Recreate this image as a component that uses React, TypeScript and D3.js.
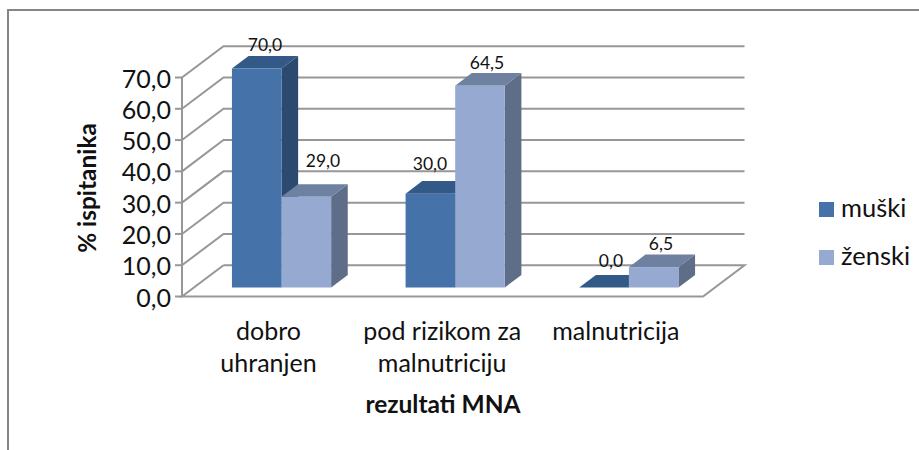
import React from "react";
import * as d3 from "d3";

const categories = ["dobro uhranjen", "pod rizikom za malnutriciju", "malnutricija"];
const categoryLines = [["dobro", "uhranjen"], ["pod rizikom za", "malnutriciju"], ["malnutricija"]];
const seriesNames = ["muški", "ženski"];
const muski = [70.0, 30.0, 0.0];
const zenski = [29.0, 64.5, 6.5];
const yTicks = [0, 10, 20, 30, 40, 50, 60, 70];

const FONT = "Lato, 'Open Sans', sans-serif";
const GRID = "#979797";
const palette = [
  { front: "#4572a8", top: "#335a87", side: "#2c4a70" },
  { front: "#95a9d1", top: "#6f81a1", side: "#5e6d88" },
];
const fmt = (v: number) => v.toFixed(1).replace(".", ",");

const axisX = 182;
const floorRight = 703;
const wallDx = 41.5;
const wallDy = -31.3;
const barDx = 16.6;
const barDy = -12.6;

const yAxis = d3.scaleLinear().domain([0, 70]).range([296.5, 77.5]);
const yBar = d3.scaleLinear().domain([0, 70]).range([287.5, 68.5]);
const x0 = d3.scaleBand<string>().domain(categories).range([194.7, 715.7]);
const x1 = d3.scaleBand<string>().domain(seriesNames).range([-49.6, 49.6]);

const line = d3.line<[number, number]>();

const labelPos: [number, number][][] = [
  [[265, 51], [430, 170], [611, 267]],
  [[323, 167], [487, 69], [661, 250]],
];

function Bar({ x, w, v, c }: { x: number; w: number; v: number; c: typeof palette[0] }) {
  const t = yBar(v);
  const b = yBar(0);
  const top = line([[x, t], [x + barDx, t + barDy], [x + w + barDx, t + barDy], [x + w, t]]) + "Z";
  const side = line([[x + w, t], [x + w + barDx, t + barDy], [x + w + barDx, b + barDy], [x + w, b]]) + "Z";
  return (
    <g>
      {v > 0 && <path d={side} fill={c.side} />}
      <path d={top} fill={c.top} />
      {v > 0 && <rect x={x} y={t} width={w} height={b - t} fill={c.front} />}
    </g>
  );
}

export default function App() {
  const series = [muski, zenski];
  return (
    <svg width={919} height={450} style={{ position: "absolute", left: 0, top: 0, background: "#fff" }} fontFamily={FONT}>
      <path d="M8 450V10H919" fill="none" stroke="#868686" strokeWidth={2} />
      {yTicks.map((t) => {
        const y = yAxis(t);
        return (
          <g key={t}>
            {t > 0 && (
              <path
                d={line([[axisX, y], [axisX + wallDx, y + wallDy], [floorRight + wallDx, y + wallDy]]) as string}
                fill="none"
                stroke={GRID}
                strokeWidth={2}
              />
            )}
            <line x1={axisX - 7} x2={axisX} y1={y} y2={y} stroke={GRID} strokeWidth={2} />
            <text x={171} y={y + 10} textAnchor="end" fontSize={25} fill="#111">{fmt(t)}</text>
          </g>
        );
      })}
      <path
        d={line([[axisX + wallDx, yAxis(0) + wallDy], [floorRight + wallDx, yAxis(0) + wallDy], [floorRight, yAxis(0)], [axisX, yAxis(0)], [axisX + wallDx, yAxis(0) + wallDy]]) as string}
        fill="none"
        stroke={GRID}
        strokeWidth={2}
      />
      <line x1={axisX} x2={axisX} y1={yAxis(70)} y2={yAxis(0)} stroke={GRID} strokeWidth={2} />
      {categories.map((cat, i) => {
        const cx = (x0(cat) as number) + x0.bandwidth() / 2;
        return seriesNames.map((s, j) => (
          <Bar key={s} x={cx + (x1(s) as number)} w={x1.bandwidth()} v={series[j][i]} c={palette[j]} />
        ));
      })}
      {series.map((vals, j) =>
        vals.map((v, i) => (
          <text key={i} x={labelPos[j][i][0]} y={labelPos[j][i][1]} textAnchor="middle" fontSize={17.5} fill="#111">{fmt(v)}</text>
        ))
      )}
      {categories.map((cat, i) => {
        const cx = (x0(cat) as number) + x0.bandwidth() / 2 - 13;
        return categoryLines[i].map((l, k) => (
          <text key={l} x={cx} y={340 + k * 32} textAnchor="middle" fontSize={25} fill="#111">{l}</text>
        ));
      })}
      <text x={443} y={413} textAnchor="middle" fontSize={24.5} fontWeight={700} fill="#111">rezultati MNA</text>
      <text transform="translate(96,188) rotate(-90)" textAnchor="middle" fontSize={24.4} fontWeight={700} fill="#111">% ispitanika</text>
      {seriesNames.map((s, j) => (
        <g key={s}>
          <rect x={819} y={202 + j * 48} width={15} height={15} fill={palette[j].front} />
          <text x={841} y={217 + j * 48} fontSize={25.5} fill="#111">{s}</text>
        </g>
      ))}
    </svg>
  );
}
